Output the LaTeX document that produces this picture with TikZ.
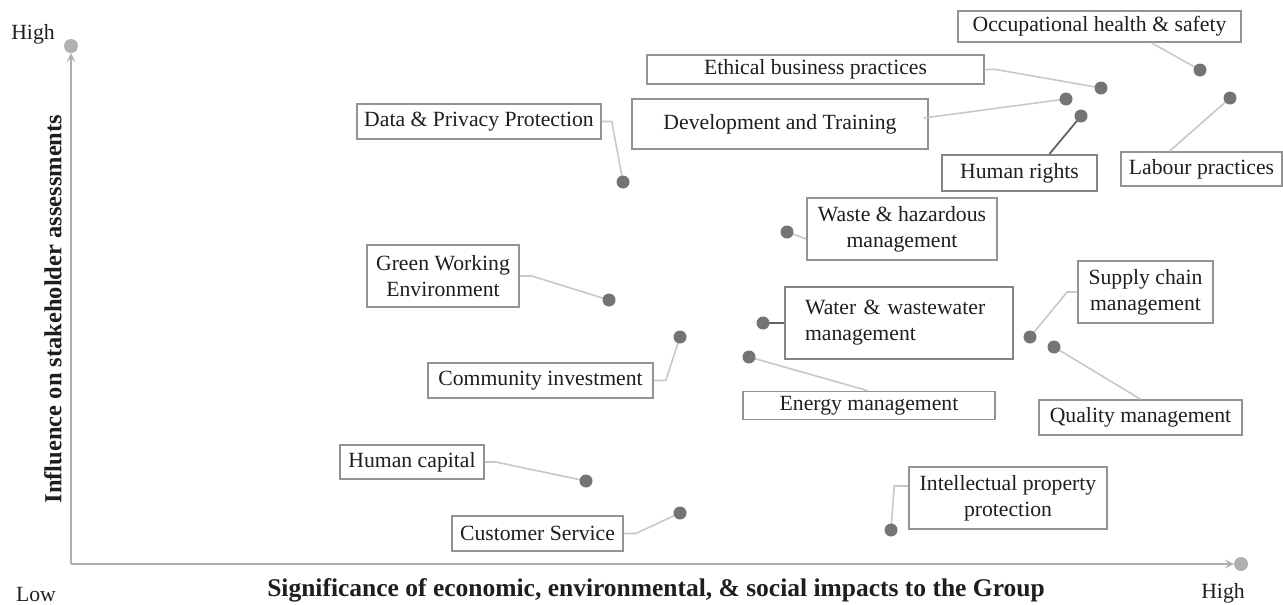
\documentclass[tikz,border=0pt]{standalone}
\usepackage{fontspec}
\setmainfont{Liberation Serif}
\usetikzlibrary{arrows.meta}
\definecolor{boxc}{HTML}{939393}
\definecolor{dotc}{HTML}{747474}
\definecolor{connc}{HTML}{C8C8C8}
\definecolor{axisc}{HTML}{B0B0B0}
\definecolor{txtc}{HTML}{1E1E1E}
\tikzset{
  lbl/.style={draw=boxc, line width=1.6pt, text=txtc, inner sep=0pt, align=center,
    font=\fontsize{21.7}{26}\selectfont},
  lblthick/.style={lbl, line width=2.2pt, draw=boxc!90!black},
  pt/.style={circle, fill=dotc, inner sep=0pt, minimum size=13pt},
  axdot/.style={circle, fill=axisc, inner sep=0pt, minimum size=14pt},
  conn/.style={draw=connc, line width=1.6pt},
  conndark/.style={draw=dotc!85!black, line width=1.8pt},
  axline/.style={draw=axisc, line width=2pt},
  axtxt/.style={text=txtc, inner sep=0pt, font=\fontsize{21.7}{26}\selectfont},
  axttl/.style={text=txtc, inner sep=0pt, font=\fontsize{24.5}{29}\selectfont\bfseries},
  axttlx/.style={text=txtc, inner sep=0pt, font=\fontsize{25.5}{30}\selectfont\bfseries}
}
\begin{document}
\begin{tikzpicture}[x=1pt,y=-1pt]
\useasboundingbox (0,0) rectangle (1283,605);
% axes
\node[axdot] (ytop) at (71,46) {};
\node[axdot] (xend) at (1241,564) {};
\coordinate (orig) at (71,564);
\draw[axline, -{Stealth[length=9pt,width=9pt,inset=4pt]}] (orig) -- (ytop.south);
\draw[axline, -{Stealth[length=9pt,width=9pt,inset=4pt]}] (orig) -- (xend.west);
\node[axtxt] (hy) at (33,34) {High};
\node[axtxt] (lo) at (36,594) {Low};
\node[axtxt] (hx) at (1223,593) {High};
\node[axttl, rotate=90] (ylab) at (53,309) {Influence on stakeholder assessments};
\node[axttlx] (xlab) at (656,590) {Significance of economic, environmental, \& social impacts to the Group};

% labels
\node[lbl, minimum width=283pt, minimum height=31pt] (occ) at (1099.5,26.5) {Occupational health \& safety};
\node[lbl, minimum width=337pt, minimum height=29pt] (eth) at (815.5,69.5) {Ethical business practices};
\node[lbl, minimum width=296pt, minimum height=50pt] (dev) at (780,124) {Development and Training};
\node[lblthick, minimum width=155pt, minimum height=36pt] (hr) at (1019.5,173) {Human rights};
\node[lbl, minimum width=161pt, minimum height=34pt] (lab) at (1201.5,169) {Labour practices};
\node[lbl, minimum width=244pt, minimum height=35pt] (dp) at (479,121.5) {Data \& Privacy Protection};
\node[lbl, minimum width=190pt, minimum height=62pt] (waste) at (902,229) {Waste \& hazardous\\management};
\node[lbl, minimum width=152pt, minimum height=62pt] (green) at (443,276) {Green Working\\Environment};
\node[lbl, minimum width=135pt, minimum height=62pt] (supply) at (1145.5,292) {Supply chain\\management};
\node[lblthick, minimum width=228pt, minimum height=72pt, align=left, text width=188pt] (water) at (899,323) {Water \& wastewater\\management};
\node[lbl, minimum width=225pt, minimum height=35pt] (comm) at (540.5,380.5) {Community investment};
\node[lbl, minimum width=252pt, minimum height=28pt] (energy) at (869,405.5) {Energy management};
\node[lbl, minimum width=203pt, minimum height=35pt] (quality) at (1140.5,417.5) {Quality management};
\node[lbl, minimum width=144pt, minimum height=34pt] (hcap) at (412,462) {Human capital};
\node[lbl, minimum width=171pt, minimum height=35pt] (cust) at (537.5,533.5) {Customer Service};
\node[lbl, minimum width=198pt, minimum height=62pt] (ip) at (1008,498) {Intellectual property\\protection};

% point coordinates
\coordinate (occp) at (1200,70);
\coordinate (ethp) at (1101,88);
\coordinate (devp) at (1066,99);
\coordinate (hrp) at (1081,116);
\coordinate (labp) at (1230,98);
\coordinate (dpp) at (623,182);
\coordinate (wastep) at (787,232);
\coordinate (greenp) at (609,300);
\coordinate (supplyp) at (1030,337);
\coordinate (waterp) at (763,323);
\coordinate (commp) at (680,337);
\coordinate (energyp) at (749,357);
\coordinate (qualityp) at (1054,347);
\coordinate (hcapp) at (586,481);
\coordinate (custp) at (680,513);
\coordinate (ipp) at (891,530);

% connectors
\draw[conn] ([xshift=52pt]occ.south) -- (occp);
\draw[conn] (eth.east) -- ++(11,0) -- (ethp);
\draw[conn] ([yshift=6pt,xshift=-5pt]dev.east) -- (devp);
\draw[conndark] ([xshift=30pt]hr.north) -- (hrp);
\draw[conn] ([xshift=-32pt]lab.north) -- (labp);
\draw[conn] (dp.east) -- ++(10,0) -- (dpp);
\draw[conn] ([yshift=-10pt]waste.west) -- (wastep);
\draw[conn] (green.east) -- ++(12,0) -- (greenp);
\draw[conn] (supply.west) -- ++(-10,0) -- (supplyp);
\draw[conndark] (water.west) -- (waterp);
\draw[conn] (comm.east) -- ++(12,0) -- (commp);
\draw[conn] ([xshift=-1pt]energy.north) -- (energyp);
\draw[conn] (quality.north) -- (qualityp);
\draw[conn] (hcap.east) -- ++(11,0) -- (hcapp);
\draw[conn] (cust.east) -- ++(12,0) -- (custp);
\draw[conn] ([yshift=12pt]ip.west) -- ++(-14,0) -- (ipp);

% dots
\foreach \p in {occp,ethp,devp,hrp,labp,dpp,wastep,greenp,supplyp,waterp,commp,energyp,qualityp,hcapp,custp,ipp}
  \node[pt] at (\p) {};
\end{tikzpicture}
\end{document}
